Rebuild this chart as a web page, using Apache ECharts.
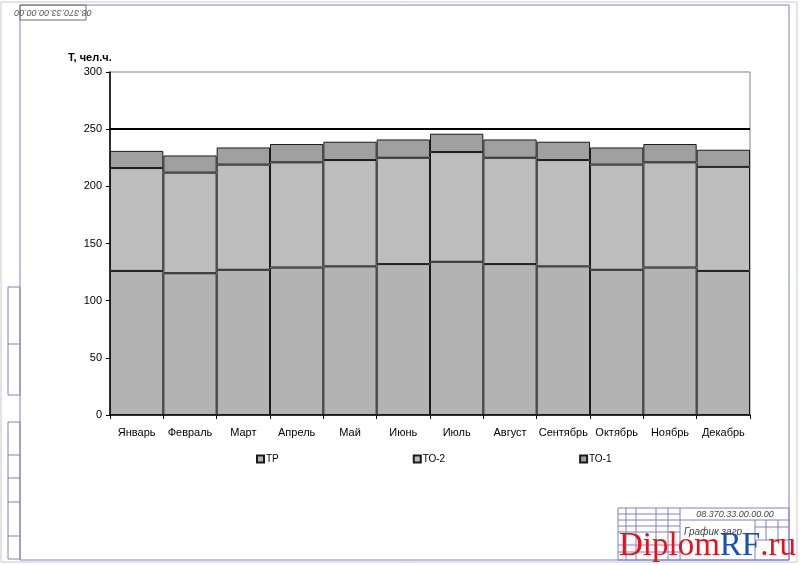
<!DOCTYPE html>
<html>
<head>
<meta charset="utf-8">
<script src="https://cdn.jsdelivr.net/npm/echarts@6/dist/echarts.min.js"></script>
<style>
html,body{margin:0;padding:0;background:#fff;}
#chart{width:800px;height:565px;}
</style>
</head>
<body>
<div id="chart"></div>
<script>
var months = ['Январь','Февраль','Март','Апрель','Май','Июнь','Июль','Август','Сентябрь','Октябрь','Ноябрь','Декабрь'];
var seriesNames = ['ТР','ТО-2','ТО-1'];
var valuesTR  = [126, 124, 127, 129, 130, 132, 134, 132, 130, 127, 129, 126];
var valuesTO2 = [90, 88, 92, 92, 93, 93, 96, 93, 93, 92, 92, 91];
var valuesTO1 = [15, 15, 15, 16, 16, 16, 16, 16, 16, 15, 16, 15];
var limitValue = 250;
var yTicks = [0, 50, 100, 150, 200, 250, 300];

var chart = echarts.init(document.getElementById('chart'), null, {renderer:'canvas'});
var frameColor = '#8080c0';
var option = {
  backgroundColor: '#ffffff',
  animation: false,
  textStyle: {fontFamily: 'Liberation Sans, Arial, sans-serif'},
  title: {
    text: 'Т, чел.ч.', left: 63, top: 47,
    textStyle: {fontSize: 11, fontWeight: 'bold', color: '#000'}
  },
  legend: {
    data: seriesNames, left: 251, top: 449, icon: 'rect',
    itemWidth: 7, itemHeight: 7, itemGap: 134,
    textStyle: {fontSize: 10, color: '#000', padding: [0,0,0,-3]}
  },
  grid: {
    left: 110, right: 50, top: 72, bottom: 150,
    show: true, borderColor: '#808080', borderWidth: 1, backgroundColor: 'transparent'
  },
  xAxis: {
    type: 'category', data: months,
    axisLine: {lineStyle: {color: '#000', width: 1.5}},
    axisTick: {show: true, alignWithLabel: false, length: 4, lineStyle: {color: '#000'}},
    axisLabel: {fontSize: 11, color: '#000', margin: 12, interval: 0}
  },
  yAxis: {
    type: 'value', min: yTicks[0], max: yTicks[yTicks.length-1], interval: 50,
    axisLine: {show: true, lineStyle: {color: '#000', width: 1.5}},
    axisTick: {show: true, length: 4, lineStyle: {color: '#000'}},
    axisLabel: {fontSize: 11, color: '#000', margin: 8},
    splitLine: {show: false}
  },
  series: [
    {name: seriesNames[0], type: 'bar', stack: 't', data: valuesTR, barCategoryGap: 0,
     itemStyle: {color: '#b3b3b3', borderColor: '#1a1a1a', borderWidth: 1},
     markLine: {silent: true, symbol: 'none', label: {show: false},
       lineStyle: {color: '#000', width: 2, type: 'solid'}, data: [{yAxis: limitValue}]}},
    {name: seriesNames[1], type: 'bar', stack: 't', data: valuesTO2, barCategoryGap: 0,
     itemStyle: {color: '#bdbdbd', borderColor: '#1a1a1a', borderWidth: 1}},
    {name: seriesNames[2], type: 'bar', stack: 't', data: valuesTO1, barCategoryGap: 0,
     itemStyle: {color: '#a0a0a0', borderColor: '#1a1a1a', borderWidth: 1}}
  ],
  graphic: [
    {type:'rect', shape:{x:1,y:2,width:796,height:560}, style:{fill:'none', stroke:'#c8c8c8', lineWidth:1}, silent:true},
    {type:'rect', shape:{x:20,y:5,width:769,height:555}, style:{fill:'none', stroke:frameColor, lineWidth:1}, silent:true},
    {type:'rect', shape:{x:20,y:5,width:66,height:15}, style:{fill:'none', stroke:'#707070', lineWidth:1}, silent:true},
    {type:'text', x:53, y:12.5, rotation: Math.PI, style:{text:'08.370.33.00.00.00', fontSize:9, fontStyle:'italic', fill:'#555', align:'center', verticalAlign:'middle'}, silent:true},
    {type:'rect', shape:{x:8,y:287,width:12,height:108}, style:{fill:'none', stroke:frameColor, lineWidth:1}, silent:true},
    {type:'line', shape:{x1:8,y1:344,x2:20,y2:344}, style:{stroke:frameColor, lineWidth:1}, silent:true},
    {type:'rect', shape:{x:8,y:422,width:12,height:137}, style:{fill:'none', stroke:frameColor, lineWidth:1}, silent:true},
    {type:'line', shape:{x1:8,y1:455,x2:20,y2:455}, style:{stroke:frameColor, lineWidth:1}, silent:true},
    {type:'line', shape:{x1:8,y1:478,x2:20,y2:478}, style:{stroke:frameColor, lineWidth:1}, silent:true},
    {type:'line', shape:{x1:8,y1:502,x2:20,y2:502}, style:{stroke:frameColor, lineWidth:1}, silent:true},
    {type:'line', shape:{x1:8,y1:536,x2:20,y2:536}, style:{stroke:frameColor, lineWidth:1}, silent:true},
    {type:'rect', shape:{x:618,y:508,width:171,height:52}, style:{fill:'none', stroke:frameColor, lineWidth:1}, silent:true},
    {type:'line', shape:{x1:680,y1:520,x2:789,y2:520}, style:{stroke:frameColor, lineWidth:1}, silent:true},
    {type:'line', shape:{x1:680,y1:508,x2:680,y2:560}, style:{stroke:frameColor, lineWidth:1}, silent:true},
    {type:'line', shape:{x1:755,y1:520,x2:755,y2:560}, style:{stroke:frameColor, lineWidth:1}, silent:true},
    {type:'line', shape:{x1:755,y1:527,x2:789,y2:527}, style:{stroke:frameColor, lineWidth:1}, silent:true},
    {type:'line', shape:{x1:755,y1:540,x2:789,y2:540}, style:{stroke:frameColor, lineWidth:1}, silent:true},
    {type:'line', shape:{x1:766,y1:520,x2:766,y2:540}, style:{stroke:frameColor, lineWidth:1}, silent:true},
    {type:'line', shape:{x1:778,y1:520,x2:778,y2:540}, style:{stroke:frameColor, lineWidth:1}, silent:true},
    {type:'line', shape:{x1:626,y1:508,x2:626,y2:560}, style:{stroke:frameColor, lineWidth:1}, silent:true},
    {type:'line', shape:{x1:636,y1:508,x2:636,y2:560}, style:{stroke:frameColor, lineWidth:1}, silent:true},
    {type:'line', shape:{x1:656,y1:508,x2:656,y2:560}, style:{stroke:frameColor, lineWidth:1}, silent:true},
    {type:'line', shape:{x1:668,y1:508,x2:668,y2:560}, style:{stroke:frameColor, lineWidth:1}, silent:true},
    {type:'line', shape:{x1:618,y1:514,x2:680,y2:514}, style:{stroke:frameColor, lineWidth:1}, silent:true},
    {type:'line', shape:{x1:618,y1:520,x2:680,y2:520}, style:{stroke:frameColor, lineWidth:1}, silent:true},
    {type:'line', shape:{x1:618,y1:526,x2:680,y2:526}, style:{stroke:frameColor, lineWidth:1}, silent:true},
    {type:'line', shape:{x1:618,y1:532,x2:680,y2:532}, style:{stroke:frameColor, lineWidth:1}, silent:true},
    {type:'line', shape:{x1:618,y1:545,x2:680,y2:545}, style:{stroke:frameColor, lineWidth:1}, silent:true},
    {type:'line', shape:{x1:618,y1:552,x2:680,y2:552}, style:{stroke:frameColor, lineWidth:1}, silent:true},
    {type:'text', x:735, y:514, style:{text:'08.370.33.00.00.00', fontSize:9, fontStyle:'italic', fill:'#444', align:'center', verticalAlign:'middle'}, silent:true},
    {type:'text', x:684, y:532, style:{text:'График загр', fontSize:10, fontStyle:'italic', fill:'#444', align:'left', verticalAlign:'middle'}, silent:true},
    {type:'text', x:619, y:563, z:100, style:{
      text:'{r|Diplom}{b|RF}{r|.ru}', verticalAlign:'bottom', align:'left',
      rich:{
        r:{fontFamily:'Liberation Serif, serif', fontSize:33, fill:'#e8101a'},
        b:{fontFamily:'Liberation Serif, serif', fontSize:33, fill:'#1a4fb8'}
      }}, silent:true}
  ]
};
chart.setOption(option);
</script>
</body>
</html>
